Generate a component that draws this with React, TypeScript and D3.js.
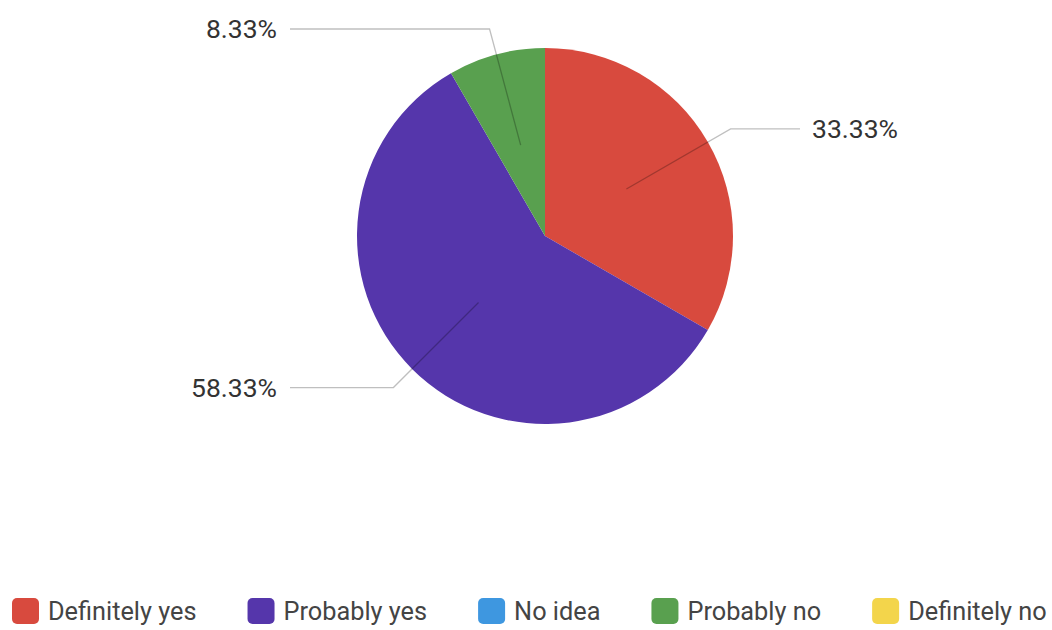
import React, { useEffect, useRef } from "react";
import * as d3 from "d3";

const categories = ["Definitely yes", "Probably yes", "No idea", "Probably no", "Definitely no"];
const values = [33.33, 58.33, 0, 8.33, 0];
const colors = ["#d84a3e", "#5536ab", "#3e97e0", "#59a04f", "#f3d54b"];

const W = 1052;
const H = 630;

export default function App() {
  const ref = useRef<SVGSVGElement>(null);

  useEffect(() => {
    const svg = d3.select(ref.current);
    svg.selectAll("*").remove();
    const cx = 545, cy = 236, R = 188;
    const font = "Roboto, 'Noto Sans', sans-serif";

    const data = categories.map((c, i) => ({ name: c, value: values[i], color: colors[i] }));
    const pie = d3.pie<any>().sort(null).value((d: any) => d.value);
    const arcs = pie(data);
    const arc = d3.arc<any>().innerRadius(0).outerRadius(R);

    const g = svg.append("g").attr("transform", `translate(${cx},${cy})`);
    g.selectAll("path.slice")
      .data(arcs.filter((a) => a.value > 0))
      .enter()
      .append("path")
      .attr("class", "slice")
      .attr("d", arc as any)
      .attr("fill", (d: any) => d.data.color);

    const innerArc = d3.arc<any>().innerRadius(R * 0.5).outerRadius(R * 0.5);
    const outerArc = d3.arc<any>().innerRadius(R * 1.14).outerRadius(R * 1.14);

    arcs.filter((a) => a.value > 0).forEach((a) => {
      const p1 = innerArc.centroid(a);
      const p2 = outerArc.centroid(a);
      const mid = (a.startAngle + a.endAngle) / 2;
      const right = mid < Math.PI;
      const xEnd = right ? 255 : -255;
      g.append("polyline")
        .attr("points", [p1, p2, [xEnd, p2[1]]].map((p) => p.join(",")).join(" "))
        .attr("fill", "none")
        .attr("stroke", "rgba(0,0,0,0.25)")
        .attr("stroke-width", 1.3);
      g.append("text")
        .attr("x", right ? 267 : -268)
        .attr("y", p2[1])
        .attr("dy", "0.35em")
        .attr("text-anchor", right ? "start" : "end")
        .attr("font-family", font)
        .attr("font-size", 26.5)
        .attr("fill", "#333")
        .text(`${a.value.toFixed(2)}%`);
    });

    // legend
    const lg = svg.append("g");
    let x = 12;
    const ly = 611;
    data.forEach((d) => {
      lg.append("rect")
        .attr("x", x)
        .attr("y", ly - 13)
        .attr("width", 27)
        .attr("height", 26)
        .attr("rx", 5)
        .attr("fill", d.color);
      const t = lg.append("text")
        .attr("x", x + 36)
        .attr("y", ly)
        .attr("dy", "0.35em")
        .attr("font-family", font)
        .attr("font-size", 25.3)
        .attr("fill", "#444")
        .text(d.name);
      const w = (t.node() as SVGTextElement).getComputedTextLength();
      x = x + 36 + w + 51;
    });
  }, []);

  return (
    <div style={{ position: "fixed", left: 0, top: 0, width: W, height: H, background: "#fff" }}>
      <svg ref={ref} width={W} height={H} />
    </div>
  );
}
